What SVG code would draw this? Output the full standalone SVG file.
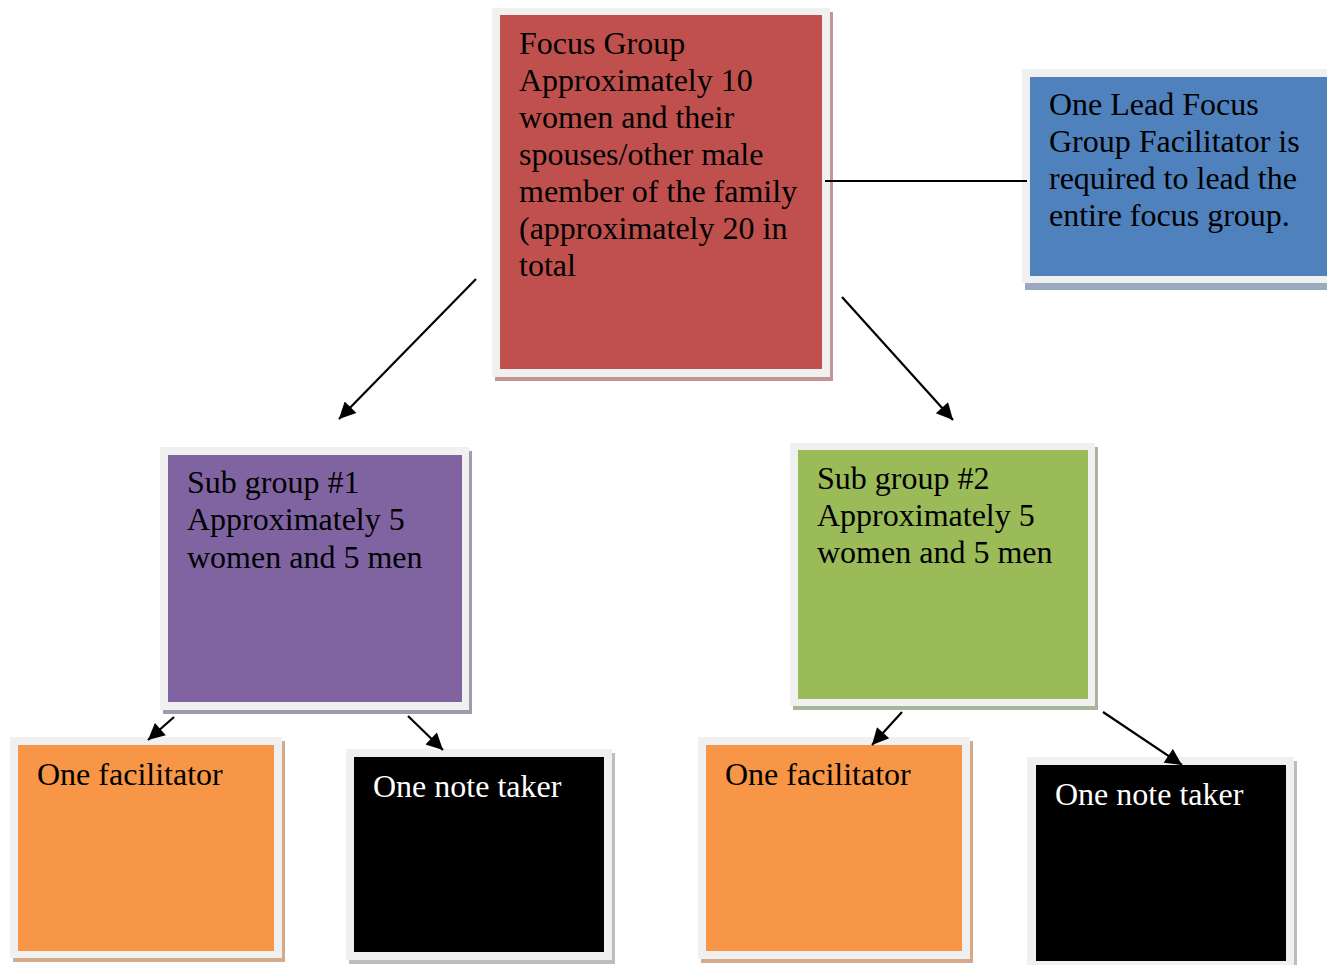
<svg xmlns="http://www.w3.org/2000/svg" width="1327" height="965" viewBox="0 0 1327 965">
<defs>
<style>
.frame{fill:#f0f0f0}
.t{font-family:"Liberation Serif","Times New Roman",serif;font-size:32px;fill:#000}
.w{fill:#fff}
.conn{stroke:#000;stroke-width:2.2;fill:none}
</style>
<marker id="ah" viewBox="0 0 10 10" refX="10" refY="5" markerWidth="8.5" markerHeight="7.5" markerUnits="strokeWidth" orient="auto">
<path d="M0,0 L10,5 L0,10 z" fill="#000"/>
</marker>
</defs>
<rect width="1327" height="965" fill="#fff"/>

<g id="focus">
<rect x="495" y="12" width="338" height="369" fill="#bf9595"/>
<rect class="frame" x="492" y="8" width="338" height="369"/>
<rect x="500" y="15" width="322" height="354" fill="#C0504D"/>
<text class="t" x="519" y="54">Focus Group</text>
<text class="t" x="519" y="91">Approximately 10</text>
<text class="t" x="519" y="128">women and their</text>
<text class="t" x="519" y="165">spouses/other male</text>
<text class="t" x="519" y="202">member of the family</text>
<text class="t" x="519" y="239">(approximately 20 in</text>
<text class="t" x="519" y="276">total</text>
</g>

<g id="lead">
<rect x="1025" y="73" width="320" height="217" fill="#9aa9c0"/>
<rect class="frame" x="1022" y="69" width="320" height="214"/>
<rect x="1030" y="77" width="310" height="199" fill="#4F81BD"/>
<text class="t" x="1049" y="115">One Lead Focus</text>
<text class="t" x="1049" y="152">Group Facilitator is</text>
<text class="t" x="1049" y="189">required to lead the</text>
<text class="t" x="1049" y="226">entire focus group.</text>
</g>

<g id="sub1">
<rect x="163" y="451" width="309" height="263" fill="#a29aad"/>
<rect class="frame" x="160" y="447" width="309" height="263"/>
<rect x="168" y="455" width="294" height="247" fill="#8064A2"/>
<text class="t" x="187" y="493">Sub group #1</text>
<text class="t" x="187" y="530">Approximately 5</text>
<text class="t" x="187" y="568">women and 5 men</text>
</g>

<g id="sub2">
<rect x="793" y="447" width="305" height="263" fill="#a9b59a"/>
<rect class="frame" x="790" y="443" width="305" height="263"/>
<rect x="798" y="450" width="290" height="249" fill="#9BBB59"/>
<text class="t" x="817" y="489">Sub group #2</text>
<text class="t" x="817" y="526">Approximately 5</text>
<text class="t" x="817" y="563">women and 5 men</text>
</g>

<g id="fac1">
<rect x="13" y="741" width="272" height="221" fill="#d5aa8a"/>
<rect class="frame" x="10" y="737" width="272" height="221"/>
<rect x="18" y="745" width="256" height="206" fill="#F79646"/>
<text class="t" x="37" y="785">One facilitator</text>
</g>

<g id="note1">
<rect x="349" y="753" width="266" height="211" fill="#bdbdbd"/>
<rect class="frame" x="346" y="749" width="266" height="211"/>
<rect x="354" y="757" width="250" height="195" fill="#000"/>
<text class="t w" x="373" y="797">One note taker</text>
</g>

<g id="fac2">
<rect x="701" y="741" width="272" height="222" fill="#d5aa8a"/>
<rect class="frame" x="698" y="737" width="272" height="222"/>
<rect x="706" y="745" width="256" height="206" fill="#F79646"/>
<text class="t" x="725" y="785">One facilitator</text>
</g>

<g id="note2">
<rect x="1030" y="761" width="267" height="212" fill="#bdbdbd"/>
<rect class="frame" x="1027" y="757" width="267" height="212"/>
<rect x="1036" y="765" width="250" height="196" fill="#000"/>
<text class="t w" x="1055" y="805">One note taker</text>
</g>

<g id="connectors">
<line class="conn" x1="825" y1="181" x2="1027" y2="181"/>
<line class="conn" x1="476" y1="279" x2="339" y2="419" marker-end="url(#ah)"/>
<line class="conn" x1="842" y1="297" x2="953" y2="420" marker-end="url(#ah)"/>
<line class="conn" x1="174" y1="717" x2="148" y2="740" marker-end="url(#ah)"/>
<line class="conn" x1="408" y1="716" x2="443" y2="750" marker-end="url(#ah)"/>
<line class="conn" x1="902" y1="712" x2="872" y2="745" marker-end="url(#ah)"/>
<line class="conn" x1="1103" y1="712" x2="1182" y2="765" marker-end="url(#ah)"/>
</g>
</svg>
